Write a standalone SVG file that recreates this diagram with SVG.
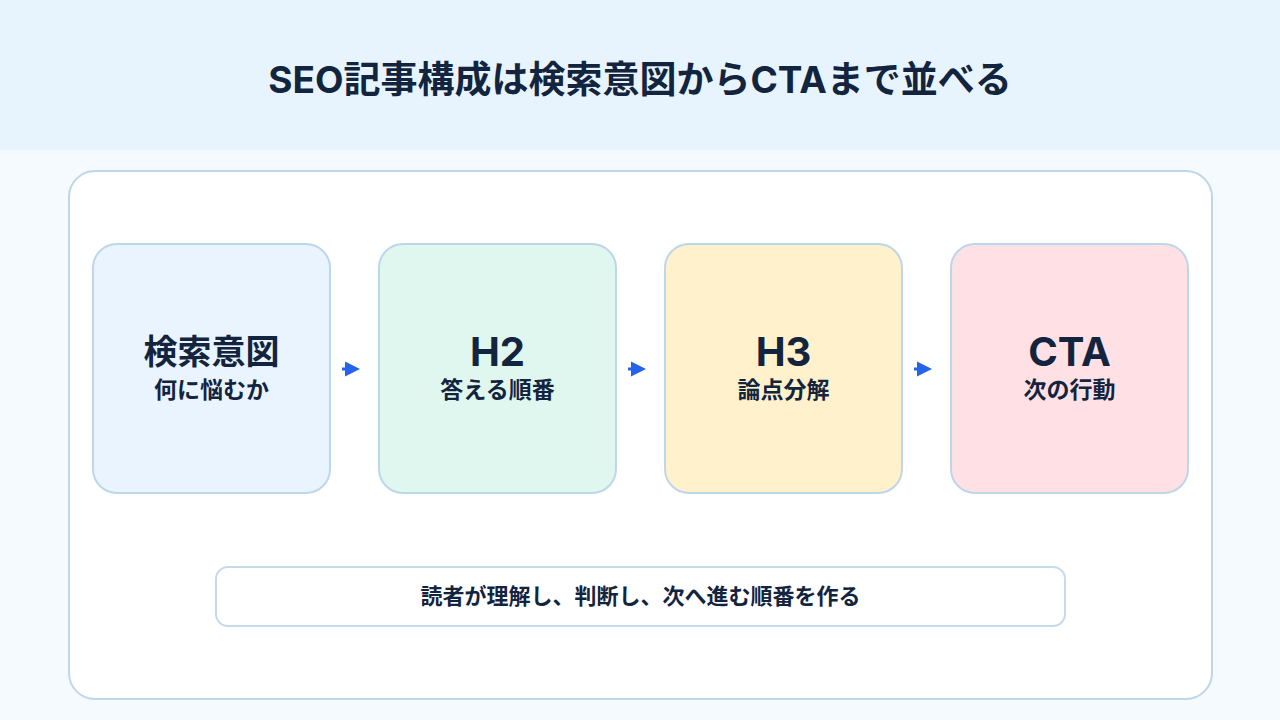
<svg xmlns="http://www.w3.org/2000/svg" width="1280" height="720" viewBox="0 0 1280 720">
<defs>
<style>
.t{font-family:Inter,"Noto Sans CJK JP","Noto Sans",sans-serif;font-weight:700;fill:#13243F;text-anchor:middle}
.node{stroke:#BCD6EA;stroke-width:2}
.conn{stroke:#2563EB;stroke-width:3;fill:none}
</style>
<marker id="ah" viewBox="0 0 10 10" refX="0" refY="5" markerWidth="5" markerHeight="5.5" markerUnits="strokeWidth" orient="auto">
<path d="M0,0 L10,5 L0,10 Z" fill="#2563EB"/>
</marker>
</defs>
<rect x="0" y="0" width="1280" height="720" fill="#F5FAFE"/>
<rect x="0" y="0" width="1280" height="150" fill="#E8F4FD"/>
<text class="t" x="640" y="93" font-size="37">SEO記事構成は検索意図からCTAまで並べる</text>
<rect x="69" y="171" width="1143" height="528" rx="26" fill="#FFFFFF" stroke="#BCD6EA" stroke-width="2"/>
<g id="n1"><rect class="node" x="93" y="244" width="237" height="249" rx="24" fill="#EAF4FE"/><text class="t" x="211.5" y="364" font-size="34">検索意図</text><text class="t" x="211.5" y="398" font-size="23">何に悩むか</text></g>
<g id="n2"><rect class="node" x="379" y="244" width="237" height="249" rx="24" fill="#E0F7EF"/><text class="t" x="497.5" y="366" font-size="40">H2</text><text class="t" x="497.5" y="398" font-size="23">答える順番</text></g>
<g id="n3"><rect class="node" x="665" y="244" width="237" height="249" rx="24" fill="#FEF1CB"/><text class="t" x="783.5" y="366" font-size="40">H3</text><text class="t" x="783.5" y="398" font-size="23">論点分解</text></g>
<g id="n4"><rect class="node" x="951" y="244" width="237" height="249" rx="24" fill="#FFE1E5"/><text class="t" x="1069.5" y="366" font-size="40">CTA</text><text class="t" x="1069.5" y="398" font-size="23">次の行動</text></g>
<g id="connectors">
<line class="conn" x1="342" y1="369" x2="345" y2="369" marker-end="url(#ah)"/>
<line class="conn" x1="628" y1="369" x2="631" y2="369" marker-end="url(#ah)"/>
<line class="conn" x1="914" y1="369" x2="917" y2="369" marker-end="url(#ah)"/>
</g>
<g id="note"><rect x="216" y="567" width="849" height="59" rx="12" fill="#FFFFFF" stroke="#C5DAEA" stroke-width="2"/><text class="t" x="640.5" y="604" font-size="22">読者が理解し、判断し、次へ進む順番を作る</text></g>
</svg>
